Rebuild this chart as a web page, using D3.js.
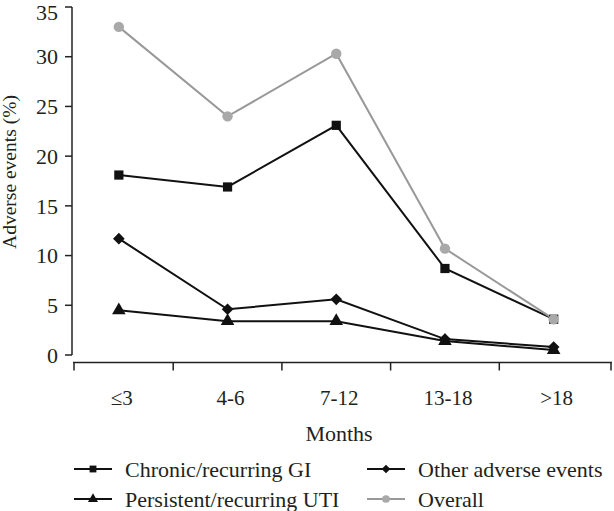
<!DOCTYPE html>
<html>
<head>
<meta charset="utf-8">
<script src="https://cdn.jsdelivr.net/npm/d3@7/dist/d3.min.js"></script>
<style>
  html, body { margin: 0; padding: 0; background: #fff; }
  svg text { font-family: "Liberation Serif", "DejaVu Serif", serif; fill: #231f20; }
</style>
</head>
<body>
<svg id="chart" width="614" height="511"></svg>
<script>
const categories = ["≤3", "4-6", "7-12", "13-18", ">18"];
const yTicks = [0, 5, 10, 15, 20, 25, 30, 35];
const chronicGI = [18.1, 16.9, 23.1, 8.7, 3.6];
const persistentUTI = [4.5, 3.4, 3.4, 1.4, 0.5];
const otherEvents = [11.7, 4.6, 5.6, 1.6, 0.8];
const overall = [33.0, 24.0, 30.3, 10.7, 3.6];

const seriesList = [
  { name: "Chronic/recurring GI", values: chronicGI, symbol: d3.symbolSquare, size: 85, rot: 0, color: "#111", line: "#111" },
  { name: "Persistent/recurring UTI", values: persistentUTI, symbol: d3.symbolTriangle, size: 80, rot: 0, color: "#111", line: "#111" },
  { name: "Other adverse events", values: otherEvents, symbol: d3.symbolSquare, size: 68, rot: 45, color: "#111", line: "#111" },
  { name: "Overall", values: overall, symbol: d3.symbolCircle, size: 85, rot: 0, color: "#a9a9a9", line: "#999" }
];

const svg = d3.select("#chart");
const x = d3.scaleBand().domain(categories).range([64.5, 608]);
const y = d3.scaleLinear().domain([0, 35]).range([355, 7]);
const cx = c => x(c) + x.bandwidth() / 2;

// Y axis
const yAxis = svg.append("g");
yAxis.append("line").attr("x1", 72).attr("x2", 72).attr("y1", y(35)).attr("y2", y(0))
  .attr("stroke", "#222").attr("stroke-width", 1.5);
yAxis.selectAll("line.tick").data(yTicks).enter().append("line")
  .attr("x1", 65).attr("x2", 72).attr("y1", d => y(d)).attr("y2", d => y(d))
  .attr("stroke", "#222").attr("stroke-width", 1.5);
yAxis.selectAll("text").data(yTicks).enter().append("text")
  .attr("x", 58).attr("y", d => Math.max(y(d), 12.5)).attr("dy", "0.35em")
  .attr("text-anchor", "end").attr("font-size", 22).text(d => d);
svg.append("text").attr("transform", "translate(16,172) rotate(-90)")
  .attr("text-anchor", "middle").attr("font-size", 19.5).text("Adverse events (%)");

// X axis
const xAxisY = 362.5;
const bounds = [74].concat(categories.slice(1).map(c => x(c)), [611]);
svg.append("line").attr("x1", 73).attr("x2", 612).attr("y1", xAxisY).attr("y2", xAxisY)
  .attr("stroke", "#222").attr("stroke-width", 1.5);
svg.selectAll("line.xt").data(bounds).enter().append("line")
  .attr("x1", d => d).attr("x2", d => d).attr("y1", xAxisY).attr("y2", xAxisY + 8)
  .attr("stroke", "#222").attr("stroke-width", 1.5);
svg.selectAll("text.xl").data(categories).enter().append("text")
  .attr("x", d => cx(d) + 3).attr("y", 405).attr("text-anchor", "middle")
  .attr("font-size", 21).text(d => d);
svg.append("text").attr("x", 339).attr("y", 441).attr("text-anchor", "middle")
  .attr("font-size", 22).text("Months");

// Lines & markers
const line = d3.line().x((d, i) => cx(categories[i])).y(d => y(d));
seriesList.forEach(s => {
  svg.append("path").attr("d", line(s.values)).attr("fill", "none")
    .attr("stroke", s.line).attr("stroke-width", 2);
});
seriesList.forEach(s => {
  svg.selectAll(null).data(s.values).enter().append("path")
    .attr("d", d3.symbol().type(s.symbol).size(s.size))
    .attr("transform", (d, i) => `translate(${cx(categories[i])},${y(d)}) rotate(${s.rot})`)
    .attr("fill", s.color);
});

// Legend
const legendItems = [
  { s: seriesList[0], x: 74, y: 469 },
  { s: seriesList[2], x: 367, y: 469 },
  { s: seriesList[1], x: 74, y: 499 },
  { s: seriesList[3], x: 367, y: 499 }
];
legendItems.forEach(it => {
  const g = svg.append("g").attr("transform", `translate(${it.x},${it.y})`);
  g.append("line").attr("x1", 0).attr("x2", 38).attr("y1", 0).attr("y2", 0)
    .attr("stroke", it.s.line).attr("stroke-width", 2);
  g.append("path").attr("d", d3.symbol().type(it.s.symbol).size(it.s.size * 0.55))
    .attr("transform", `translate(19,0) rotate(${it.s.rot})`).attr("fill", it.s.color);
  g.append("text").attr("x", 51).attr("y", 0).attr("dy", "0.35em")
    .attr("font-size", 22).text(it.s.name);
});
</script>
</body>
</html>
